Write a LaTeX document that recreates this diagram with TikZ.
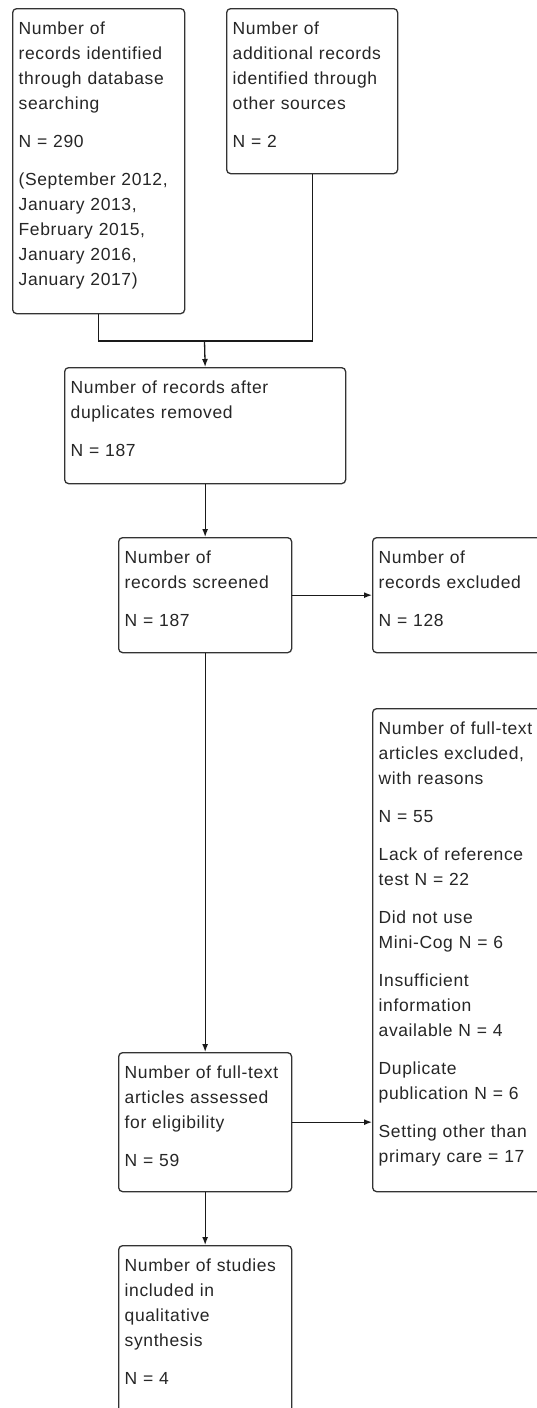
\documentclass[tikz,border=0pt]{standalone}
\usepackage{fontspec}
\setmainfont{Liberation Sans}[LetterSpace=3.5]
\usetikzlibrary{arrows.meta}
\definecolor{boxc}{HTML}{333333}
\definecolor{linec}{HTML}{1A1A1A}
\definecolor{txtc}{HTML}{262626}
\newcommand\myfs{\rule{0pt}{16pt}}
\begin{document}
\begin{tikzpicture}[x=1pt,y=-1pt,
  box/.style={draw=boxc, line width=1.3pt, rounded corners=4pt, anchor=north west, inner sep=0pt, fill=white},
  txt/.style={anchor=north west, inner sep=0pt, align=left, text width=220pt, font=\fontsize{17.5}{25}\selectfont, text=txtc},
  arr/.style={draw=linec, line width=1.3pt, -{Latex[length=8pt,width=6pt]}},
  ln/.style={draw=linec, line width=1.3pt}]
\useasboundingbox[fill=white] (0,0) rectangle (536,1408);

% boxes
\node[box, minimum width=172pt, minimum height=305pt] (A) at (12,8) {};
\node[box, minimum width=171pt, minimum height=165pt] (B) at (226,8) {};
\node[box, minimum width=281pt, minimum height=116pt] (C) at (64,367) {};
\node[box, minimum width=173pt, minimum height=115pt] (D) at (118,537) {};
\node[box, minimum width=190pt, minimum height=115pt] (E) at (372,537) {};
\node[box, minimum width=190pt, minimum height=483pt] (F) at (372,708) {};
\node[box, minimum width=173pt, minimum height=139pt] (G) at (118,1052) {};
\node[box, minimum width=173pt, minimum height=200pt] (H) at (118,1245) {};

% texts
\node[txt] (tA) at (18.5,18) {\myfs Number of\\ records identified\\ through database\\ searching\\[13pt] N = 290\\[13pt] (September 2012,\\ January 2013,\\ February 2015,\\ January 2016,\\ January 2017)};
\node[txt] (tB) at (232.5,18) {\myfs Number of\\ additional records\\ identified through\\ other sources\\[13pt] N = 2};
\node[txt] (tC) at (70.5,377) {\myfs Number of records after\\ duplicates removed\\[13pt] N = 187};
\node[txt] (tD) at (124.5,547) {\myfs Number of\\ records screened\\[13pt] N = 187};
\node[txt] (tE) at (378.5,547) {\myfs Number of\\ records excluded\\[13pt] N = 128};
\node[txt] (tF) at (378.5,718) {\myfs Number of full-text\\ articles excluded,\\ with reasons\\[13pt] N = 55\\[13pt] Lack of reference\\ test N = 22\\[13pt] Did not use\\ Mini-Cog N = 6\\[13pt] Insufficient\\ information\\ available N = 4\\[13pt] Duplicate\\ publication N = 6\\[13pt] Setting other than\\ primary care = 17};
\node[txt] (tG) at (124.5,1062) {\myfs Number of full-text\\ articles assessed\\ for eligibility\\[13pt] N = 59};
\node[txt] (tH) at (124.5,1255) {\myfs Number of studies\\ included in\\ qualitative\\ synthesis\\[13pt] N = 4};

% connectors
\coordinate (m) at (204.5,341);
\draw[ln] (A.south) |- (m) -| (B.south);
\draw[arr] (m) -- (C.north);
\draw[arr] (C.south) -- (D.north);
\draw[arr] (D.east) -- (E.west);
\draw[arr] (D.south) -- (G.north);
\draw[arr] (G.east) -- (G.east -| F.west);
\draw[arr] (G.south) -- (H.north);
\end{tikzpicture}
\end{document}
